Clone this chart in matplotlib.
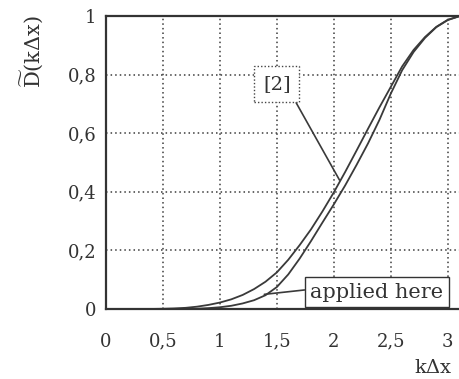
import matplotlib
matplotlib.use('Agg')
import matplotlib.pyplot as plt
import numpy as np

plt.rcParams['font.family'] = ['DejaVu Serif']
plt.rcParams['mathtext.fontset'] = 'dejavuserif'

# curves
k_dx = [0.0, 0.1, 0.2, 0.3, 0.4, 0.5, 0.6, 0.7, 0.8, 0.9, 1.0, 1.1, 1.2, 1.3, 1.4, 1.5,
        1.6, 1.7, 1.8, 1.9, 2.0, 2.1, 2.2, 2.3, 2.4, 2.5, 2.6, 2.7, 2.8, 2.9, 3.0, 3.1, 3.1416]
d_ref2 = [0.0, 0.0, 0.0, 0.0, 0.0002, 0.0008, 0.002, 0.004, 0.008, 0.014, 0.022, 0.033, 0.048,
          0.068, 0.093, 0.125, 0.168, 0.218, 0.272, 0.333, 0.398, 0.468, 0.541, 0.615, 0.688,
          0.758, 0.828, 0.884, 0.928, 0.963, 0.987, 0.999, 1.0]
d_applied = [0.0, 0.0, 0.0, 0.0, 0.0, 0.0, 0.0, 0.0003, 0.001, 0.003, 0.006, 0.011, 0.019,
             0.030, 0.047, 0.075, 0.118, 0.172, 0.232, 0.295, 0.357, 0.422, 0.492, 0.565,
             0.645, 0.735, 0.815, 0.877, 0.925, 0.962, 0.986, 0.999, 1.0]

xticks = [0, 0.5, 1, 1.5, 2, 2.5, 3]
xlabels = ['0', '0,5', '1', '1,5', '2', '2,5', '3']
yticks = [0, 0.2, 0.4, 0.6, 0.8, 1]
ylabels = ['0', '0,2', '0,4', '0,6', '0,8', '1']

fig = plt.figure(figsize=(4.6, 3.79), dpi=100)
ax = fig.add_axes([0.2304, 0.1847, 0.778, 0.7731])

dark = '#3a3a3a'
ax.plot(k_dx, d_ref2, color=dark, lw=1.3)
ax.plot(k_dx, d_applied, color=dark, lw=1.3)

ax.set_xlim(0, np.pi)
ax.set_ylim(0, 1)
ax.set_xticks(xticks)
ax.set_xticklabels(xlabels, fontsize=13)
ax.set_yticks(yticks)
ax.set_yticklabels(ylabels, fontsize=13)
ax.tick_params(axis='both', length=0, colors='#333333')
ax.tick_params(axis='x', pad=17)
ax.tick_params(axis='y', pad=7)
ax.grid(True, linestyle=(0, (1, 2)), color='#3c3c3c', lw=1.1)

for s in ['left', 'bottom', 'top']:
    ax.spines[s].set_linewidth(1.6)
    ax.spines[s].set_color('#333333')
ax.spines['right'].set_visible(False)

ax.text(-0.207, 0.877, r'$\widetilde{\mathrm{D}}$(k$\Delta$x)', transform=ax.transAxes,
        rotation=90, ha='center', va='center', fontsize=15, color='#333333')
ax.text(0.915, -0.20, r'k$\Delta$x', transform=ax.transAxes,
        ha='center', va='center', fontsize=14, color='#333333')

ax.annotate('[2]', xy=(2.05, 0.44), xytext=(1.50, 0.768), fontsize=14,
            ha='center', va='center', color='#333333',
            bbox=dict(boxstyle='square,pad=0.45', fc='white', ec='#444444',
                      ls=(0, (1, 1.5)), lw=1.0),
            arrowprops=dict(arrowstyle='-', color=dark, lw=1.2, relpos=(1, 0),
                            shrinkA=0, shrinkB=0))
ax.annotate('applied here', xy=(1.39, 0.05), xytext=(2.377, 0.058), fontsize=15,
            ha='center', va='center', color='#333333',
            bbox=dict(boxstyle='square,pad=0.25', fc='white', ec='#333333', lw=1.0),
            arrowprops=dict(arrowstyle='-', color=dark, lw=1.2, relpos=(0, 0.64),
                            shrinkA=0, shrinkB=0))

fig.savefig('out.png', dpi=100, facecolor='white')
